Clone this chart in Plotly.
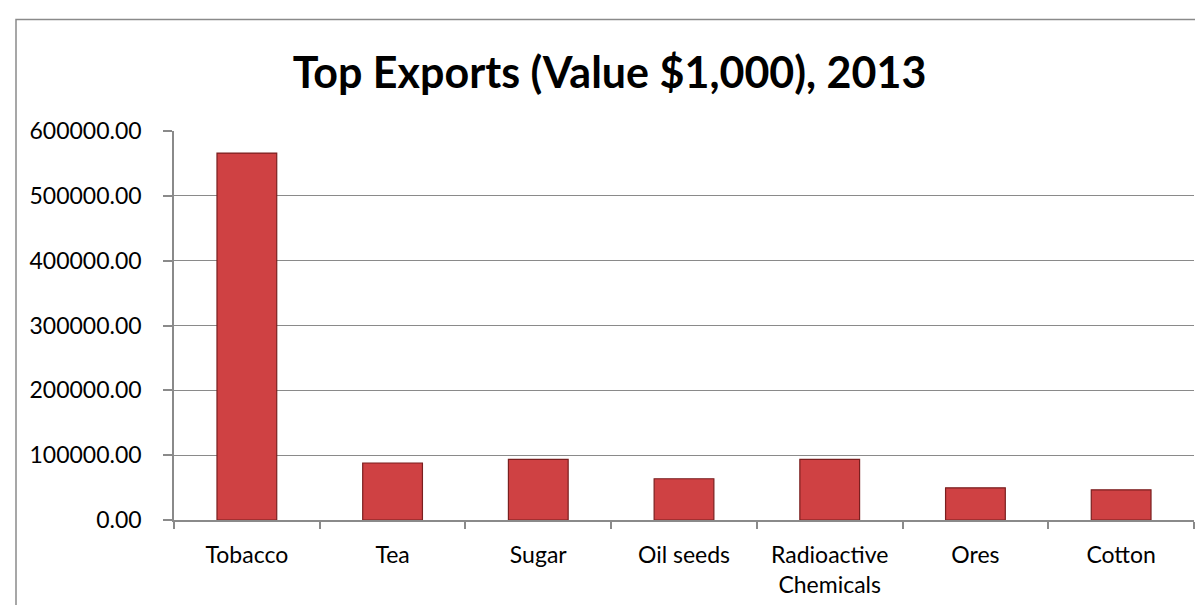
import plotly.graph_objects as go

categories = ["Tobacco", "Tea", "Sugar", "Oil seeds", "Radioactive<br>Chemicals", "Ores", "Cotton"]
values = [566000, 87900, 93500, 63600, 93500, 49600, 46500]
y_ticks = [0, 100000, 200000, 300000, 400000, 500000, 600000]

W, H = 1203, 605
L, R, T, B = 166, 17, 123, 93
pw, ph = W - L - R, H - T - B

grey = "#8A8A8A"
font = "Lato, 'Open Sans', sans-serif"

fig = go.Figure(go.Bar(
    x=categories, y=values,
    marker=dict(color="#CF4143", line=dict(color="#7A1F1F", width=1.2)),
))

fig.update_layout(
    width=W, height=H,
    margin=dict(l=L, r=R, t=T, b=B),
    paper_bgcolor="white", plot_bgcolor="white",
    bargap=0.59,
    showlegend=False,
    title=dict(text="<b>Top Exports (Value $1,000), 2013</b>",
               x=0.5, xref="container", xanchor="center",
               y=1 - 80 / H, yref="container", yanchor="bottom",
               font=dict(family=font, size=43, color="black")),
    font=dict(family=font, size=23, color="black"),
    shapes=[dict(type="rect", xref="paper", yref="paper",
                 x0=(8 - L) / pw, x1=(W + 10 - L) / pw,
                 y0=-(B + 10) / ph, y1=(H - B - 11.5) / ph,
                 line=dict(color=grey, width=1.5), fillcolor="rgba(0,0,0,0)", layer="below")],
)

fig.update_xaxes(
    showline=True, linecolor=grey, linewidth=1.5,
    ticks="outside", tickson="boundaries", ticklen=7, tickcolor=grey, tickwidth=1.5,
    showgrid=False, ticklabelstandoff=14,
    tickfont=dict(family=font, size=23, color="black"),
)
fig.update_yaxes(
    range=[0, 600000], tickvals=y_ticks, tickformat=".2f",
    showline=True, linecolor=grey, linewidth=1.5,
    ticks="outside", ticklen=9, tickcolor=grey, tickwidth=1.5,
    showgrid=True, gridcolor=grey, gridwidth=1.2,
    zeroline=False, ticklabelstandoff=17,
    tickfont=dict(family=font, size=23, color="black"),
)

fig.write_html("out.html")
